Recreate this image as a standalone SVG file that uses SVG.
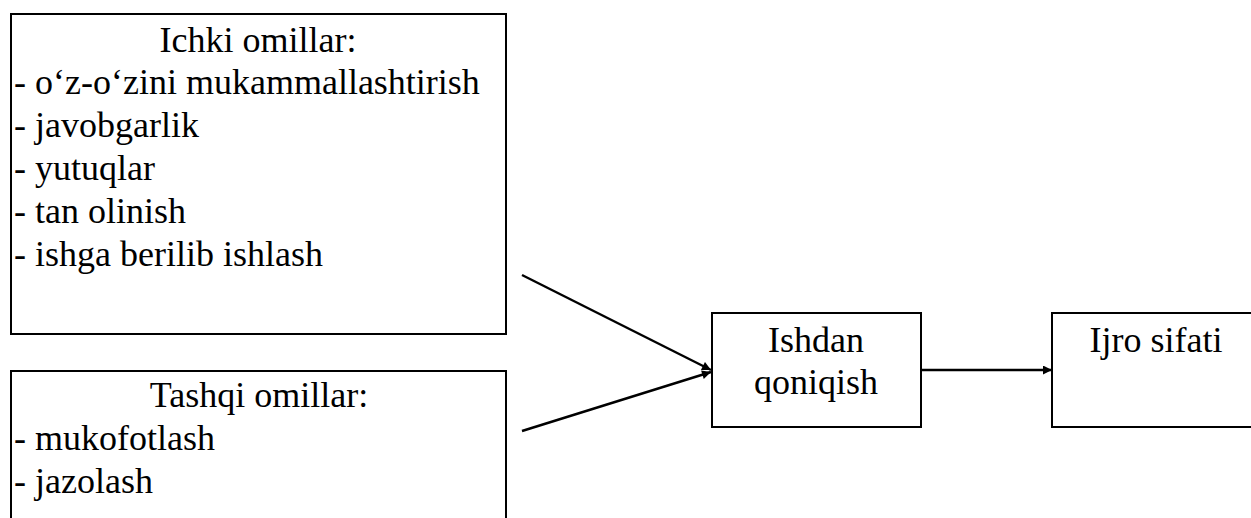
<svg xmlns="http://www.w3.org/2000/svg" width="1251" height="518" viewBox="0 0 1251 518">
<style>
.box{fill:#fff;stroke:#000;stroke-width:2}
text{font-family:'Liberation Serif','Times New Roman',serif;font-size:36px;fill:#000}
.c{text-anchor:middle}
.ln{stroke:#000;stroke-width:2.4;fill:none}
</style>
<defs>
<marker id="ah" viewBox="0 0 10 10" refX="10" refY="5" markerWidth="11" markerHeight="9" markerUnits="userSpaceOnUse" orient="auto">
<path d="M0,0 L10,5 L0,10 Z" fill="#000"/>
</marker>
</defs>
<rect width="1251" height="518" fill="#fff"/>
<g id="ichki">
<rect class="box" x="11" y="14" width="495" height="320"/>
<text class="c" x="258" y="52">Ichki omillar:</text>
<text x="14" y="94">- o‘z-o‘zini mukammallashtirish</text>
<text x="14" y="137">- javobgarlik</text>
<text x="14" y="180">- yutuqlar</text>
<text x="14" y="223">- tan olinish</text>
<text x="14" y="266">- ishga berilib ishlash</text>
</g>
<g id="tashqi">
<rect class="box" x="11" y="371" width="495" height="160"/>
<text class="c" x="259" y="407">Tashqi omillar:</text>
<text x="14" y="450">- mukofotlash</text>
<text x="14" y="493">- jazolash</text>
</g>
<g id="ishdan">
<rect class="box" x="712" y="313" width="209" height="114"/>
<text class="c" x="816" y="352">Ishdan</text>
<text class="c" x="816" y="394">qoniqish</text>
</g>
<g id="ijro">
<rect class="box" x="1052" y="313" width="210" height="114"/>
<text class="c" x="1156" y="352">Ijro sifati</text>
</g>
<g id="connectors">
<line class="ln" x1="522" y1="275" x2="711" y2="370" marker-end="url(#ah)"/>
<line class="ln" x1="522" y1="431" x2="711" y2="372" marker-end="url(#ah)"/>
<line class="ln" x1="921" y1="370" x2="1052" y2="370" marker-end="url(#ah)"/>
</g>
</svg>
